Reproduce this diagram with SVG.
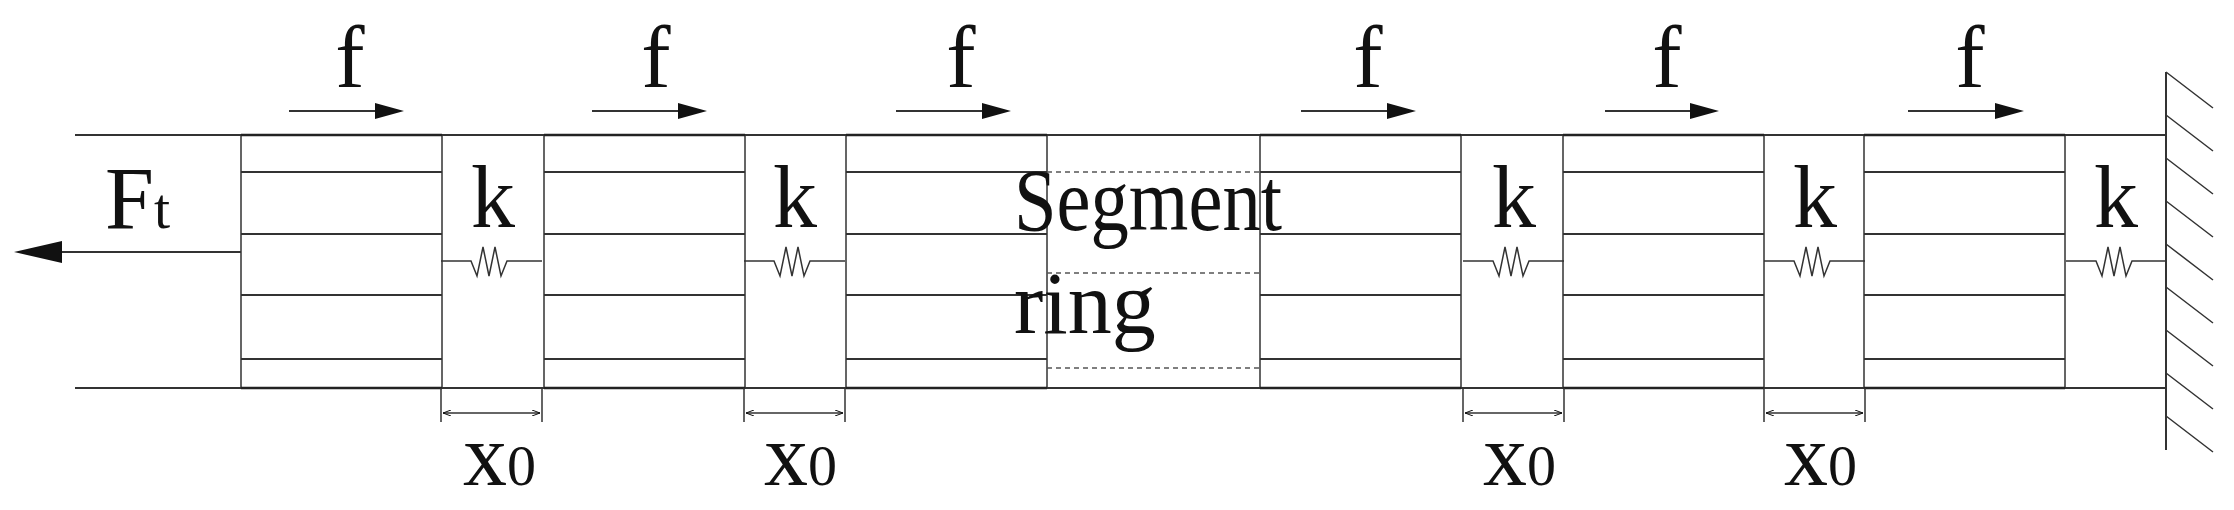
<svg xmlns="http://www.w3.org/2000/svg" width="2234" height="510" viewBox="0 0 2234 510">
<style>
.ln{stroke:#333;stroke-width:2;fill:none}
.bx{stroke:#333;stroke-width:1.5;fill:none}
.th{stroke:#222;stroke-width:2.5}
.ds{stroke:#555;stroke-width:1.5;stroke-dasharray:5,4}
.sp{stroke:#333;stroke-width:1.5;fill:none}
.t{font-family:"Liberation Serif",serif;font-size:88px;fill:#111}
.s{font-family:"Liberation Serif",serif;font-size:58px;fill:#111}
</style>
<defs>
<marker id="sm" markerWidth="8" markerHeight="6" refX="8" refY="3" orient="auto-start-reverse" markerUnits="userSpaceOnUse" viewBox="0 0 8 6"><path d="M0,0L8,3L0,6" fill="none" stroke="#111" stroke-width="1"/></marker>
<g id="blk"><rect x="0" y="135" width="201" height="253" class="bx"/><line x1="0" y1="135" x2="201" y2="135" class="th"/><line x1="0" y1="388" x2="201" y2="388" class="th"/><path class="ln" d="M0,172H201M0,234H201M0,295H201M0,359H201"/></g>
<g id="spr"><path class="sp" d="M0,261H30L36,276L42,247L48,276L54,247L60,276L66,261H101"/></g>
<g id="dim"><path class="sp" d="M0,388V422M101,388V422"/><line x1="2" y1="413" x2="99" y2="413" class="sp" marker-start="url(#sm)" marker-end="url(#sm)"/></g>
</defs>
<g id="rails"><line x1="75" y1="135" x2="2166" y2="135" class="ln" stroke="#777"/><line x1="75" y1="388" x2="2166" y2="388" class="ln" stroke="#777"/></g>
<g id="block1"><use href="#blk" x="241"/></g>
<g id="block2"><use href="#blk" x="544"/></g>
<g id="block3"><use href="#blk" x="846"/></g>
<g id="block4"><use href="#blk" x="1260"/></g>
<g id="block5"><use href="#blk" x="1563"/></g>
<g id="block6"><use href="#blk" x="1864"/></g>
<g id="segment"><path class="ds" d="M1047,172H1260M1047,273H1260M1047,368H1260"/>
<text class="t" x="1014" y="230" font-size="76" textLength="268" lengthAdjust="spacingAndGlyphs">Segment</text>
<text class="t" x="1014" y="333" font-size="76">ring</text></g>
<g id="wall"><line x1="2166" y1="72" x2="2166" y2="450" class="ln"/><path class="sp" d="M2166,72l47,36M2166,115l47,36M2166,158l47,36M2166,201l47,36M2166,244l47,36M2166,287l47,36M2166,330l47,36M2166,373l47,36M2166,416l47,36"/></g>
<g id="connectors">
<line x1="241" y1="252" x2="50" y2="252" class="ln"/>
<path d="M14,252L62,241V263z" fill="#111"/>
<use href="#spr" x="441"/><use href="#spr" x="744"/><use href="#spr" x="1463"/><use href="#spr" x="1764"/><use href="#spr" x="2066"/>
<use href="#dim" x="441"/><use href="#dim" x="744"/><use href="#dim" x="1463"/><use href="#dim" x="1764"/>
<g class="ln"><path d="M289,111H380M592,111H683M896,111H987M1301,111H1392M1605,111H1696M1908,111H1999"/></g>
<g fill="#111"><path d="M404,111l-29,-8v16z"/><path d="M707,111l-29,-8v16z"/><path d="M1011,111l-29,-8v16z"/><path d="M1416,111l-29,-8v16z"/><path d="M1719,111l-29,-8v16z"/><path d="M2024,111l-29,-8v16z"/></g>
</g>
<g id="labels">
<text class="t" x="105" y="228" font-size="96">F<tspan class="s" font-size="64">t</tspan></text>
<g text-anchor="middle" font-size="92"><text class="t" x="350" y="87" font-size="92">f</text><text class="t" x="656" y="87" font-size="92">f</text><text class="t" x="961" y="87" font-size="92">f</text><text class="t" x="1368" y="87" font-size="92">f</text><text class="t" x="1667" y="87" font-size="92">f</text><text class="t" x="1970" y="87" font-size="92">f</text>
<text class="t" x="493" y="227" font-size="92">k</text><text class="t" x="795" y="227" font-size="92">k</text><text class="t" x="1514" y="227" font-size="92">k</text><text class="t" x="1815" y="227" font-size="92">k</text><text class="t" x="2116" y="227" font-size="92">k</text></g>
<text class="t" x="463" y="485">x<tspan class="s">0</tspan></text><text class="t" x="764" y="485">x<tspan class="s">0</tspan></text><text class="t" x="1483" y="485">x<tspan class="s">0</tspan></text><text class="t" x="1784" y="485">x<tspan class="s">0</tspan></text>
</g>
</svg>
